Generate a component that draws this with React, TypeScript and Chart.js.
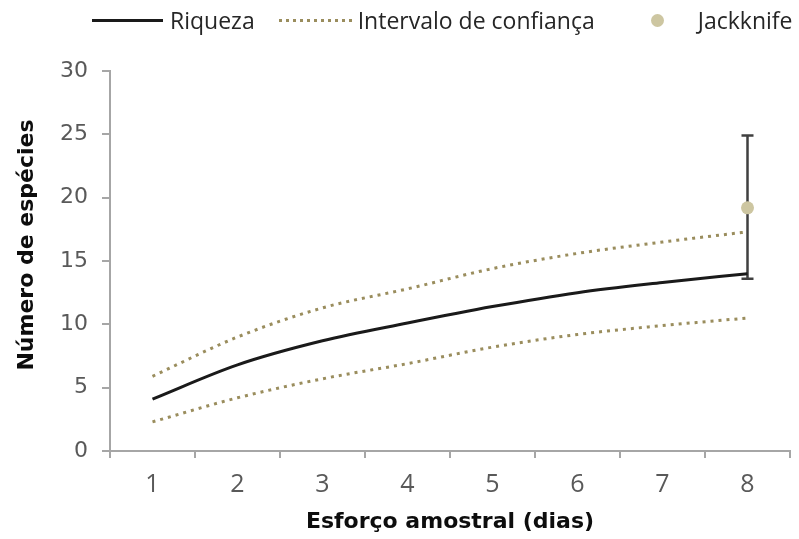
import React, { useEffect, useRef } from "react";
import { Chart, registerables } from "chart.js";

Chart.register(...registerables);

// ---- Data ----
const categories = ["1", "2", "3", "4", "5", "6", "7", "8"];
const riqueza = [4.1, 6.8, 8.7, 10.1, 11.4, 12.5, 13.3, 14.0];
const upperCI = [5.9, 9.0, 11.3, 12.8, 14.4, 15.6, 16.5, 17.3];
const lowerCI = [2.3, 4.2, 5.7, 6.9, 8.2, 9.2, 9.9, 10.5];
const jackknife = [null, null, null, null, null, null, null, 19.2];
const jackknifeLow = [null, null, null, null, null, null, null, 13.6];
const jackknifeHigh = [null, null, null, null, null, null, null, 24.9];
const yMin = 0;
const yMax = 30;
const yStep = 5;

const legendLabels = ["Riqueza", "Intervalo de confiança", "Jackknife"];
const xTitle = "Esforço amostral (dias)";
const yTitle = "Número de espécies";

const LINE_COLOR = "#1a1a1a";
const CI_COLOR = "#9a8d5d";
const JK_COLOR = "#cdc6a1";
const AXIS_COLOR = "#a6a6a6";
const TICK_COLOR = "#595959";
const TITLE_COLOR = "#0d0d0d";

const errorBarPlugin = {
  id: "errorBars",
  beforeDatasetsDraw(chart: any) {
    const { ctx, scales } = chart;
    const xs = scales.x;
    const ys = scales.y;
    ctx.save();
    ctx.strokeStyle = "#404040";
    ctx.lineWidth = 2.5;
    for (let i = 0; i < categories.length; i++) {
      const lo = jackknifeLow[i];
      const hi = jackknifeHigh[i];
      if (lo == null || hi == null) continue;
      const x = xs.getPixelForValue(i);
      const yLo = ys.getPixelForValue(lo);
      const yHi = ys.getPixelForValue(hi);
      const cap = 6;
      ctx.beginPath();
      ctx.moveTo(x, yLo);
      ctx.lineTo(x, yHi);
      ctx.moveTo(x - cap, yHi);
      ctx.lineTo(x + cap, yHi);
      ctx.moveTo(x - cap, yLo);
      ctx.lineTo(x + cap, yLo);
      ctx.stroke();
    }
    ctx.restore();
  },
};

const yTitlePlugin = {
  id: "yTitle",
  afterDraw(chart: any) {
    const { ctx } = chart;
    ctx.save();
    ctx.translate(27, 245);
    ctx.rotate(-Math.PI / 2);
    ctx.textAlign = "center";
    ctx.textBaseline = "middle";
    ctx.fillStyle = TITLE_COLOR;
    ctx.font = "bold 22px 'DejaVu Sans', sans-serif";
    ctx.fillText(yTitle, 0, 0);
    ctx.restore();
  },
};

export default function App() {
  const canvasRef = useRef<HTMLCanvasElement | null>(null);

  useEffect(() => {
    if (!canvasRef.current) return;
    const chart = new Chart(canvasRef.current, {
      type: "line",
      data: {
        labels: categories,
        datasets: [
          {
            label: legendLabels[0],
            data: riqueza,
            borderColor: LINE_COLOR,
            borderWidth: 3,
            pointRadius: 0,
            cubicInterpolationMode: "monotone",
            fill: false,
          },
          {
            label: legendLabels[1],
            data: upperCI,
            borderColor: CI_COLOR,
            borderWidth: 3,
            borderDash: [3, 5],
            pointRadius: 0,
            cubicInterpolationMode: "monotone",
            fill: false,
          },
          {
            label: legendLabels[1] + " (inferior)",
            data: lowerCI,
            borderColor: CI_COLOR,
            borderWidth: 3,
            borderDash: [3, 5],
            pointRadius: 0,
            cubicInterpolationMode: "monotone",
            fill: false,
          },
          {
            label: legendLabels[2],
            data: jackknife as any,
            showLine: false,
            pointRadius: 6.5,
            pointBackgroundColor: JK_COLOR,
            pointBorderWidth: 0,
            borderColor: JK_COLOR,
          },
        ],
      },
      options: {
        animation: false,
        responsive: true,
        maintainAspectRatio: false,
        layout: { padding: { top: 71, right: 9, bottom: 0, left: 0 } },
        plugins: {
          legend: { display: false },
          tooltip: { enabled: false },
        },
        scales: {
          x: {
            type: "category",
            offset: true,
            afterFit(scale: any) {
              scale.height = 88;
            },
            grid: {
              offset: true,
              drawOnChartArea: false,
              drawTicks: true,
              tickLength: 7,
              color: AXIS_COLOR,
              lineWidth: 2,
            },
            border: { color: AXIS_COLOR, width: 2 },
            ticks: {
              color: TICK_COLOR,
              font: { family: "'Open Sans', sans-serif", size: 25 },
              padding: 12,
            },
            title: {
              display: true,
              text: xTitle,
              color: TITLE_COLOR,
              font: { family: "'DejaVu Sans', sans-serif", size: 22, weight: "bold" },
              padding: { top: 4, bottom: 4 },
            },
          },
          y: {
            min: yMin,
            max: yMax,
            afterFit(scale: any) {
              scale.width = 110;
            },
            grid: {
              drawOnChartArea: false,
              drawTicks: true,
              tickLength: 8,
              color: AXIS_COLOR,
              lineWidth: 2,
            },
            border: { color: AXIS_COLOR, width: 2 },
            ticks: {
              stepSize: yStep,
              color: TICK_COLOR,
              font: { family: "'DejaVu Sans', sans-serif", size: 22 },
              padding: 14,
            },
            title: { display: false },
          },
        },
      },
      plugins: [errorBarPlugin, yTitlePlugin],
    });
    return () => chart.destroy();
  }, []);

  const legendText: React.CSSProperties = {
    fontFamily: "'Open Sans', sans-serif",
    fontSize: 23,
    color: "#262626",
    lineHeight: "28px",
    whiteSpace: "nowrap",
  };

  return (
    <div
      style={{
        position: "fixed",
        left: 0,
        top: 0,
        width: 799,
        height: 539,
        background: "#ffffff",
      }}
    >
      <canvas ref={canvasRef} />
      <div
        style={{
          position: "absolute",
          left: 92,
          top: 6,
          display: "flex",
          alignItems: "center",
          height: 28,
        }}
      >
        <div style={{ width: 71, height: 3, background: LINE_COLOR }} />
        <span style={{ ...legendText, marginLeft: 7 }}>{legendLabels[0]}</span>
        <div
          style={{
            width: 75,
            height: 3,
            marginLeft: 24,
            background: `repeating-linear-gradient(to right, ${CI_COLOR} 0 3px, transparent 3px 7px)`,
          }}
        />
        <span style={{ ...legendText, marginLeft: 4 }}>{legendLabels[1]}</span>
        <div
          style={{
            width: 13,
            height: 13,
            borderRadius: "50%",
            background: JK_COLOR,
            marginLeft: 56,
          }}
        />
        <span style={{ ...legendText, marginLeft: 34 }}>{legendLabels[2]}</span>
      </div>
    </div>
  );
}
